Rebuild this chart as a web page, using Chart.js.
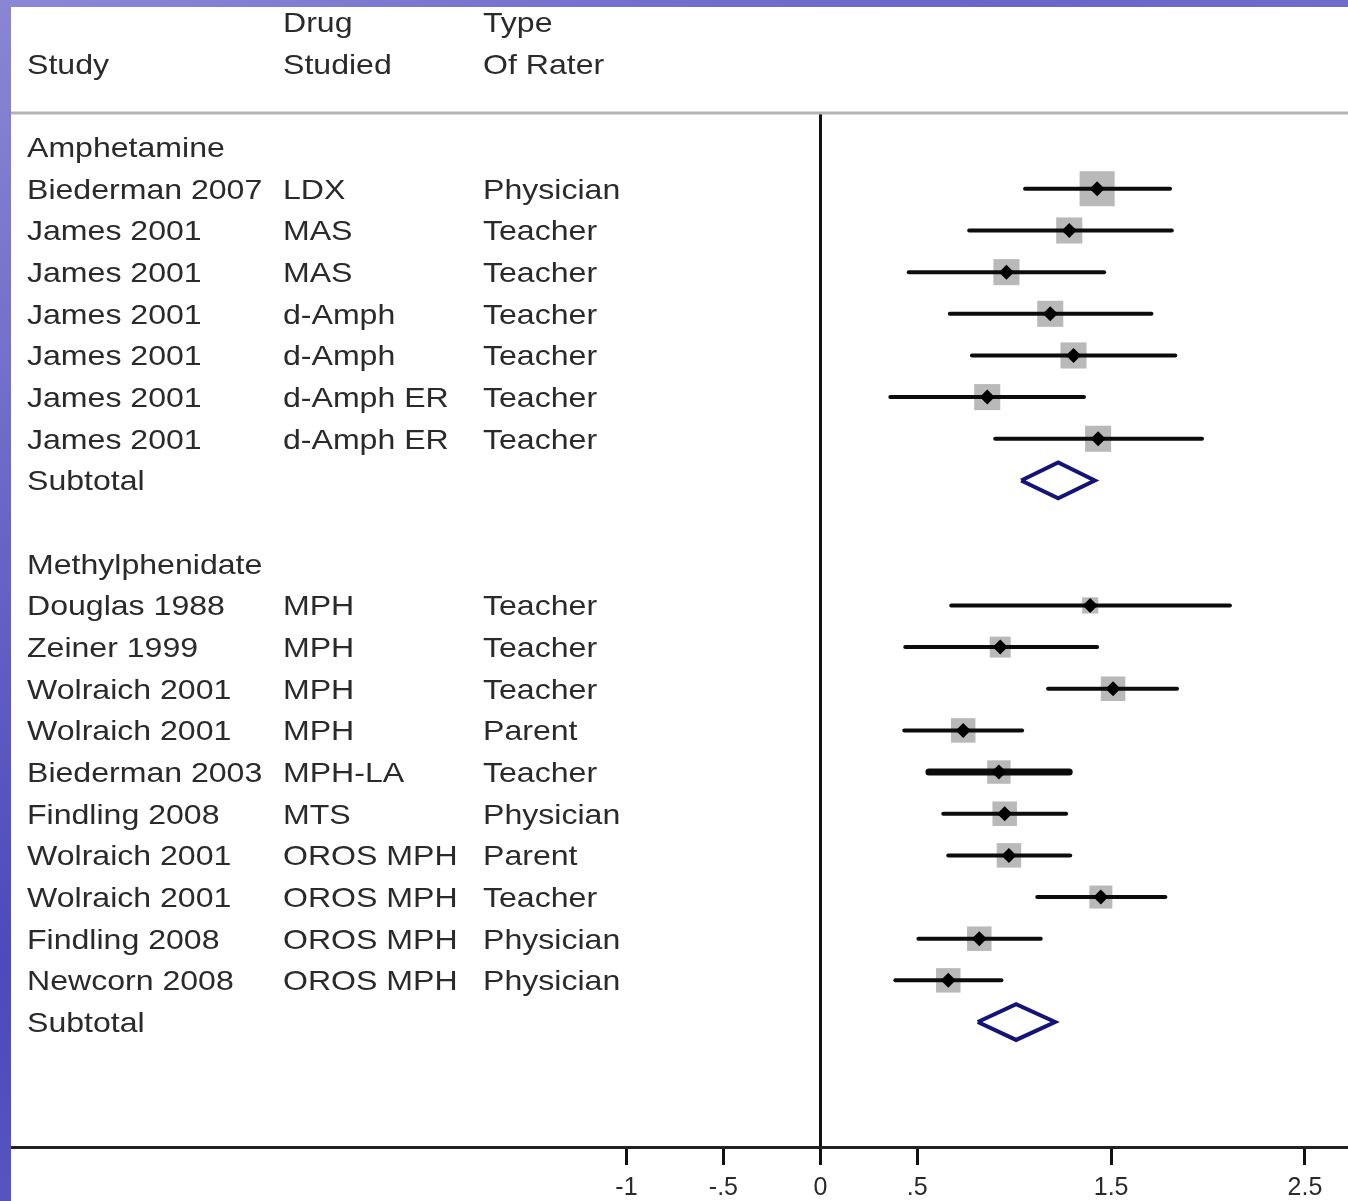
<!DOCTYPE html>
<html>
<head>
<meta charset="utf-8">
<script src="https://cdn.jsdelivr.net/npm/chart.js@4/dist/chart.umd.min.js"></script>
<style>
  html, body { margin: 0; padding: 0; background: #fff; }
  #page { position: relative; width: 1348px; height: 1201px; overflow: hidden; background: #fff; }
  #plot { position: absolute; left: 0; top: 0; }
  #labels { position: absolute; left: 0; top: 0; width: 1348px; height: 1201px; pointer-events: none; }
  .cell {
    position: absolute; white-space: nowrap;
    font-family: "Liberation Sans", Arial, sans-serif; font-size: 28.5px; line-height: 30px;
    color: #2a2a2a; transform: scaleX(1.125); transform-origin: left center;
  }
  #frameTop { position: absolute; left: 0; top: 0; width: 1348px; height: 7px;
    background: linear-gradient(to right, #8c88d6, #7470cc 45%, #6a66c8 75%, #706cca); z-index: 3; }
  #frameLeft { position: absolute; left: 0; top: 0; width: 11px; height: 1201px;
    background: linear-gradient(to bottom, #8a86d4, #6c68c8 40%, #4c4abc 80%, #5654c0); z-index: 3; }
</style>
</head>
<body>
<div id="page">
  <canvas id="plot" width="1348" height="1201"></canvas>
  <div id="labels"></div>
  <div id="frameTop"></div>
  <div id="frameLeft"></div>
</div>
<script>
// column headers (row -3 and -2 above the separator)
const headerTop = ['', 'Drug', 'Type'];
const headerBottom = ['Study', 'Studied', 'Of Rater'];

// group titles and subtotal rows
const groupNames = ['Amphetamine', 'Methylphenidate'];
const groupRows = [0, 10];
const subtotalRows = [8, 21];
const subtotalEst = [1.227, 1.010];
const subtotalLow = [1.036, 0.812];
const subtotalHigh = [1.416, 1.211];

// individual studies
const studies = ['Biederman 2007', 'James 2001', 'James 2001', 'James 2001', 'James 2001', 'James 2001', 'James 2001',
  'Douglas 1988', 'Zeiner 1999', 'Wolraich 2001', 'Wolraich 2001', 'Biederman 2003', 'Findling 2008',
  'Wolraich 2001', 'Wolraich 2001', 'Findling 2008', 'Newcorn 2008'];
const drugs = ['LDX', 'MAS', 'MAS', 'd-Amph', 'd-Amph', 'd-Amph ER', 'd-Amph ER',
  'MPH', 'MPH', 'MPH', 'MPH', 'MPH-LA', 'MTS', 'OROS MPH', 'OROS MPH', 'OROS MPH', 'OROS MPH'];
const raters = ['Physician', 'Teacher', 'Teacher', 'Teacher', 'Teacher', 'Teacher', 'Teacher',
  'Teacher', 'Teacher', 'Teacher', 'Parent', 'Teacher', 'Physician', 'Parent', 'Teacher', 'Physician', 'Physician'];
const studyRows = [1, 2, 3, 4, 5, 6, 7, 11, 12, 13, 14, 15, 16, 17, 18, 19, 20];
const estimates = [1.428, 1.284, 0.960, 1.186, 1.306, 0.861, 1.433,
  1.392, 0.928, 1.510, 0.737, 0.921, 0.951, 0.973, 1.447, 0.820, 0.660];
const lower = [1.056, 0.768, 0.456, 0.668, 0.782, 0.361, 0.902,
  0.675, 0.438, 1.175, 0.433, 0.560, 0.634, 0.660, 1.119, 0.506, 0.387];
const upper = [1.804, 1.813, 1.464, 1.708, 1.831, 1.360, 1.969,
  2.113, 1.428, 1.840, 1.041, 1.284, 1.268, 1.289, 1.780, 1.137, 0.934];
const weights = [12.3, 6.8, 6.8, 6.8, 6.8, 6.8, 6.8,
  2.6, 4.4, 6.0, 6.0, 5.5, 6.0, 6.0, 5.3, 6.0, 6.0];

// x axis
const tickValues = [-1, -0.5, 0, 0.5, 1.5, 2.5];
const tickLabels = ['-1', '-.5', '0', '.5', '1.5', '2.5'];

const X_MIN = -4.175, X_MAX = 2.722;
const Y_MIN = -0.82, Y_MAX = 24;
const COL_X = [27, 283, 483];
const THICK_CI = [11];          // Biederman 2003 drawn heavier
const DIAMOND_HALF = 0.43;

// ---- datasets ----
const datasets = [];

datasets.push({
  label: 'weights',
  data: studyRows.map((r, i) => ({ x: estimates[i], y: r })),
  pointStyle: 'rect',
  pointRadius: weights.map(w => Math.sqrt(w) * 10 / 2 / Math.SQRT1_2),
  backgroundColor: '#b9b9b9',
  borderWidth: 0,
  order: 5
});

studyRows.forEach((r, i) => {
  datasets.push({
    label: 'ci' + i,
    data: [{ x: lower[i], y: r }, { x: upper[i], y: r }],
    showLine: true,
    borderColor: '#0c0c0c',
    borderWidth: THICK_CI.includes(i) ? 7 : 4,
    borderCapStyle: 'round',
    pointRadius: 0,
    order: 4
  });
});

datasets.push({
  label: 'estimates',
  data: studyRows.map((r, i) => ({ x: estimates[i], y: r })),
  pointStyle: 'rectRot',
  pointRadius: 7.5,
  backgroundColor: '#000',
  borderWidth: 0,
  order: 2
});

subtotalRows.forEach((r, g) => {
  datasets.push({
    label: 'subtotal' + g,
    data: [
      { x: subtotalLow[g], y: r },
      { x: subtotalEst[g], y: r - DIAMOND_HALF },
      { x: subtotalHigh[g], y: r },
      { x: subtotalEst[g], y: r + DIAMOND_HALF },
      { x: subtotalLow[g], y: r }
    ],
    showLine: true,
    fill: false,
    borderColor: '#141478',
    borderWidth: 4,
    borderJoinStyle: 'miter',
    pointRadius: 0,
    order: 1
  });
});

// ---- text cells (positioned from the y scale after layout) ----
const cells = [];
function addCell(text, col, row) {
  if (!text) return;
  const el = document.createElement('div');
  el.className = 'cell';
  el.textContent = text;
  el.style.left = COL_X[col] + 'px';
  document.getElementById('labels').appendChild(el);
  cells.push({ el: el, row: row });
}
headerTop.forEach((t, c) => addCell(t, c, -3));
headerBottom.forEach((t, c) => addCell(t, c, -2));
groupNames.forEach((t, g) => addCell(t, 0, groupRows[g]));
subtotalRows.forEach(r => addCell('Subtotal', 0, r));
studies.forEach((t, i) => {
  addCell(t, 0, studyRows[i]);
  addCell(drugs[i], 1, studyRows[i]);
  addCell(raters[i], 2, studyRows[i]);
});

const tablePlugin = {
  id: 'table',
  afterDraw(chart) {
    const ctx = chart.ctx;
    const area = chart.chartArea;
    // grey separator under the header
    ctx.save();
    ctx.strokeStyle = '#b4b4b4';
    ctx.lineWidth = 3;
    ctx.beginPath();
    ctx.moveTo(area.left, area.top);
    ctx.lineTo(area.right, area.top);
    ctx.stroke();
    ctx.restore();
    const yScale = chart.scales.y;
    cells.forEach(c => {
      c.el.style.top = (yScale.getPixelForValue(c.row) - 15) + 'px';
    });
  }
};

new Chart(document.getElementById('plot'), {
  type: 'scatter',
  data: { datasets: datasets },
  plugins: [tablePlugin],
  options: {
    responsive: false,
    animation: false,
    devicePixelRatio: 1,
    layout: { autoPadding: false, padding: { left: 11, top: 113, right: 0, bottom: 0 } },
    plugins: { legend: { display: false }, tooltip: { enabled: false } },
    scales: {
      x: {
        type: 'linear',
        min: X_MIN, max: X_MAX,
        afterFit: s => { s.height = 54; s.paddingLeft = 0; s.paddingRight = 0; },
        afterBuildTicks: axis => { axis.ticks = tickValues.map(v => ({ value: v })); },
        ticks: {
          callback: (v, i) => tickLabels[i],
          color: '#2a2a2a',
          font: { family: '"Liberation Sans", Arial, sans-serif', size: 25 },
          padding: 8,
          maxRotation: 0,
          autoSkip: false
        },
        grid: {
          drawOnChartArea: true,
          color: c => (c.tick && c.tick.value === 0) ? '#111' : 'rgba(0,0,0,0)',
          tickColor: '#111',
          lineWidth: 3,
          tickWidth: 3,
          tickLength: 18
        },
        border: { display: true, color: '#222', width: 3 }
      },
      y: {
        type: 'linear',
        display: false,
        reverse: true,
        min: Y_MIN, max: Y_MAX
      }
    }
  }
});
</script>
</body>
</html>
